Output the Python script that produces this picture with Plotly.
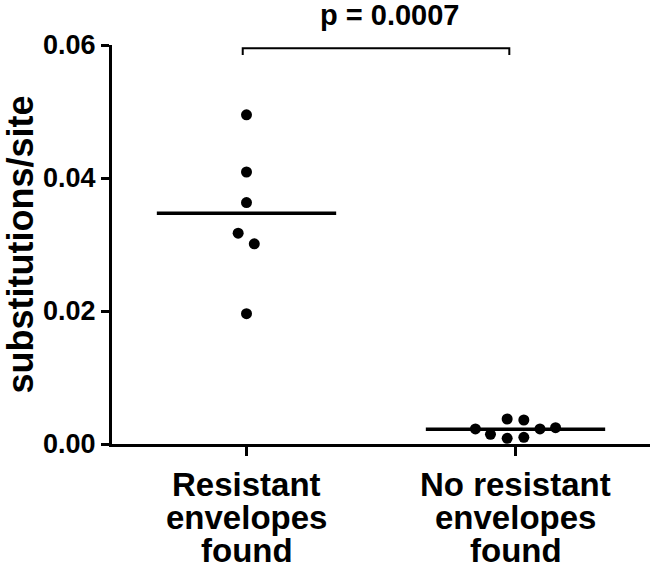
import numpy as np
import plotly.graph_objects as go

# categories (x axis), one entry per label line
categories = [["Resistant", "envelopes", "found"], ["No resistant", "envelopes", "found"]]

# substitutions/site per envelope
resistant_vals = [0.0495, 0.0409, 0.0363, 0.0317, 0.0301, 0.0196]
resistant_jitter = [0.0, 0.0, 0.0, -0.031, 0.029, 0.0]
no_resistant_vals = [0.00226, 0.00146, 0.00376, 0.00086, 0.00361, 0.00101, 0.00226, 0.00245]
no_resistant_jitter = [-0.149, -0.093, -0.031, -0.031, 0.031, 0.031, 0.091, 0.149]

y_ticks = [0.00, 0.02, 0.04, 0.06]
p_text = "p = 0.0007"

FONT = "Arial, Liberation Sans, sans-serif"

fig = go.Figure()

groups = [(resistant_vals, resistant_jitter), (no_resistant_vals, no_resistant_jitter)]
for idx, (vals, jit) in enumerate(groups):
    fig.add_trace(go.Scatter(
        x=[idx + j for j in jit],
        y=vals,
        mode="markers",
        marker=dict(color="black", size=11),
        cliponaxis=False,
        showlegend=False,
    ))
    # mean line
    m = float(np.mean(vals))
    fig.add_trace(go.Scatter(
        x=[idx - 1 / 3, idx + 1 / 3],
        y=[m, m],
        mode="lines",
        line=dict(color="black", width=3.5),
        showlegend=False,
    ))

# category labels, drawn line by line to get the tight line spacing
for idx, lines in enumerate(categories):
    for n, txt in enumerate(lines):
        fig.add_annotation(x=idx, y=0, xref="x", yref="paper", text="<b>%s</b>" % txt,
                           showarrow=False, yanchor="middle", yshift=-40 - 33 * n,
                           font=dict(family=FONT, size=33, color="black"))

# significance bracket
fig.add_shape(type="path",
              path="M -0.014,0.0585 L -0.014,0.0595 L 0.977,0.0595 L 0.977,0.0585",
              xref="x", yref="y", line=dict(color="black", width=2))
fig.add_annotation(x=0.5, y=1, xref="x", yref="paper", text="<b>%s</b>" % p_text,
                   showarrow=False, yanchor="middle", yshift=30, xshift=8,
                   font=dict(family=FONT, size=29, color="black"))

fig.update_xaxes(
    range=[-0.5, 1.5],
    tickvals=[0, 1],
    ticktext=["", ""],
    showline=True, linecolor="black", linewidth=3,
    ticks="outside", ticklen=9, tickwidth=3, tickcolor="black",
    showgrid=False, zeroline=False, automargin=False,
)
fig.update_yaxes(
    range=[0, 0.06],
    tickvals=y_ticks,
    ticktext=["<b>%.2f</b>" % v for v in y_ticks],
    showline=True, linecolor="black", linewidth=3,
    ticks="outside", ticklen=8, tickwidth=3, tickcolor="black",
    showgrid=False, zeroline=False, automargin=False,
    tickfont=dict(family=FONT, size=27, color="black"),
    title=dict(text="<b>substitutions/site</b>", standoff=5,
               font=dict(family=FONT, size=36, color="black")),
)

fig.update_layout(
    width=650, height=579,
    margin=dict(l=112, r=0, t=45, b=135),
    plot_bgcolor="white", paper_bgcolor="white",
)

# drop the browser's default 8px body margin so the figure sits at the page corner
fig.write_html("out.html", config={"displayModeBar": False},
               post_script="document.body.style.margin='0px';document.body.style.overflow='hidden';")
